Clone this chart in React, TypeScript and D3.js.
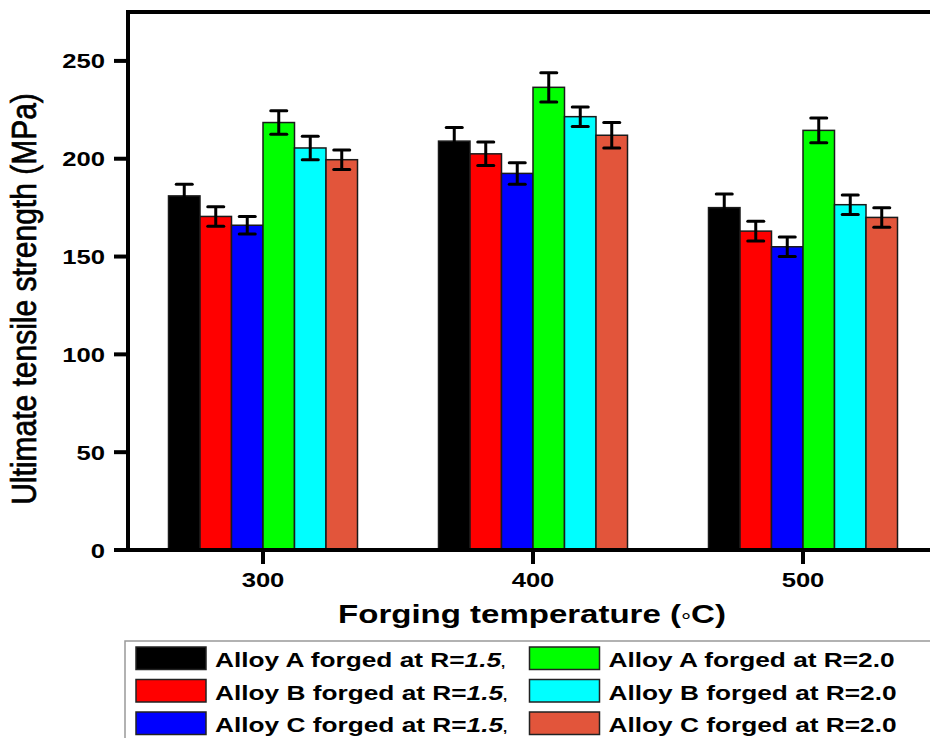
import React from "react";
import * as d3 from "d3";

// forging temperatures (°C)
const temperatures = [300, 400, 500];

const seriesNames = [
  "Alloy A forged at R=1.5",
  "Alloy B forged at R=1.5",
  "Alloy C forged at R=1.5",
  "Alloy A forged at R=2.0",
  "Alloy B forged at R=2.0",
  "Alloy C forged at R=2.0",
];
const seriesColors = ["#000000", "#ff0000", "#0000ff", "#00ff00", "#00ffff", "#e2553b"];

// ultimate tensile strength (MPa), one value per temperature
const alloyA15 = [181, 209, 175];
const alloyB15 = [170.5, 202.5, 163];
const alloyC15 = [166, 192.5, 155];
const alloyA20 = [218.5, 236.5, 214.5];
const alloyB20 = [205.5, 221.5, 176.5];
const alloyC20 = [199.5, 212, 170];

// error bars (± MPa)
const errA15 = [6, 7, 7];
const errB15 = [5, 6, 5];
const errC15 = [4.5, 5.5, 5];
const errA20 = [6, 7.5, 6.3];
const errB20 = [6, 5, 5];
const errC20 = [5, 6.5, 5];

const yTicks = [0, 50, 100, 150, 200, 250];

const values = [alloyA15, alloyB15, alloyC15, alloyA20, alloyB20, alloyC20];
const errors = [errA15, errB15, errC15, errA20, errB20, errC20];

const FONT = "'Liberation Sans', Arial, sans-serif";
const SX = 1.25; // the source glyphs are stretched horizontally

const App = () => {
  const width = 930;
  const height = 738;
  const left = 128;
  const top = 12;
  const bottom = 550;

  const x = d3.scaleLinear().domain([250, 550]).range([left, 938]);
  const y = d3.scaleLinear().domain([0, 275]).range([bottom, top]);
  const groupHalf = 35;

  const bars = [];
  temperatures.forEach((t, ti) => {
    const inner = d3
      .scaleBand()
      .domain(seriesNames)
      .range([x(t - groupHalf), x(t + groupHalf)])
      .padding(0);
    seriesNames.forEach((name, si) => {
      const v = values[si][ti];
      const e = errors[si][ti];
      const bx = inner(name);
      const bw = inner.bandwidth();
      bars.push({ key: `${t}-${si}`, bx, bw, v, e, color: seriesColors[si] });
    });
  });

  const legendCols = [136, 529.5];

  return (
    <svg
      width={width}
      height={height}
      style={{ position: "absolute", left: 0, top: 0, background: "#fff" }}
    >
      {/* bars */}
      {bars.map((b) => (
        <g key={b.key}>
          <rect
            x={b.bx}
            y={y(b.v)}
            width={b.bw}
            height={y(0) - y(b.v)}
            fill={b.color}
            stroke="#1a1a1a"
            strokeWidth={1.5}
          />
          <line
            x1={b.bx + b.bw / 2}
            x2={b.bx + b.bw / 2}
            y1={y(b.v - b.e)}
            y2={y(b.v + b.e)}
            stroke="#000"
            strokeWidth={3}
          />
          <line
            x1={b.bx + b.bw / 2 - 8}
            x2={b.bx + b.bw / 2 + 8}
            y1={y(b.v + b.e)}
            y2={y(b.v + b.e)}
            stroke="#000"
            strokeWidth={3}
            strokeLinecap="round"
          />
          <line
            x1={b.bx + b.bw / 2 - 8}
            x2={b.bx + b.bw / 2 + 8}
            y1={y(b.v - b.e)}
            y2={y(b.v - b.e)}
            stroke="#000"
            strokeWidth={3}
            strokeLinecap="round"
          />
        </g>
      ))}

      {/* frame */}
      <line x1={left} x2={940} y1={top} y2={top} stroke="#000" strokeWidth={4} />
      <line x1={left} x2={left} y1={top - 2} y2={bottom + 2} stroke="#000" strokeWidth={4} />
      <line x1={left - 2} x2={940} y1={bottom} y2={bottom} stroke="#000" strokeWidth={4} />

      {/* y ticks */}
      {yTicks.map((t) => (
        <g key={t}>
          <line x1={left - 14} x2={left} y1={y(t)} y2={y(t)} stroke="#000" strokeWidth={4} />
          <text
            transform={`translate(${left - 23},${y(t) + 7.5}) scale(${SX},1)`}
            textAnchor="end"
            fontFamily={FONT}
            fontWeight="bold"
            fontSize={20.5}
            fill="#000"
          >
            {t}
          </text>
        </g>
      ))}

      {/* x ticks */}
      {temperatures.map((t) => (
        <g key={t}>
          <line x1={x(t)} x2={x(t)} y1={bottom} y2={bottom + 14} stroke="#000" strokeWidth={4} />
          <text
            transform={`translate(${x(t)},${bottom + 37}) scale(${SX},1)`}
            textAnchor="middle"
            fontFamily={FONT}
            fontWeight="bold"
            fontSize={20.5}
            fill="#000"
          >
            {t}
          </text>
        </g>
      ))}

      {/* axis titles */}
      <text
        transform={`translate(${x(400) - 1},623) scale(1.27,1)`}
        textAnchor="middle"
        fontFamily={FONT}
        fontWeight="bold"
        fontSize={26}
        fill="#000"
      >
        Forging temperature (
        <tspan fontWeight="normal" fontSize={20} dy={5}>°</tspan>
        <tspan dy={-5}>C)</tspan>
      </text>
      <text
        transform={`translate(36,299) rotate(-90) scale(1,1.15)`}
        textAnchor="middle"
        fontFamily={FONT}
        fontWeight="normal"
        fontSize={30}
        stroke="#000"
        strokeWidth={0.6}
        fill="#000"
      >
        Ultimate tensile strength (MPa)
      </text>

      {/* legend */}
      <rect x={125} y={641} width={820} height={120} fill="#fff" stroke="#999" strokeWidth={1.5} />
      {seriesNames.map((name, i) => {
        const col = Math.floor(i / 3);
        const row = i % 3;
        const lx = legendCols[col];
        const ly = 647 + row * 32.5;
        const [head, num] = name.split("=");
        return (
          <g key={name}>
            <rect
              x={lx}
              y={ly}
              width={70}
              height={22.5}
              fill={seriesColors[i]}
              stroke="#222"
              strokeWidth={1.5}
            />
            <text
              transform={`translate(${lx + 79},${ly + 20}) scale(${SX},1)`}
              fontFamily={FONT}
              fontWeight="bold"
              fontSize={21}
              fill="#000"
            >
              {head}=
              {col === 0 ? (
                <>
                  <tspan fontStyle="italic">{num}</tspan>
                  <tspan fontSize={12}>,</tspan>
                </>
              ) : (
                num
              )}
            </text>
          </g>
        );
      })}
    </svg>
  );
};

export default App;
